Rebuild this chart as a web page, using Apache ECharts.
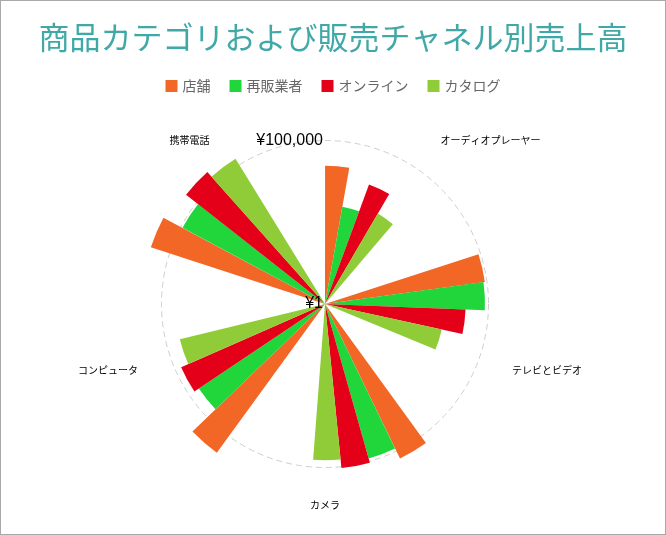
<!DOCTYPE html>
<html>
<head>
<meta charset="utf-8">
<script src="https://cdn.jsdelivr.net/npm/echarts@6/dist/echarts.min.js"></script>
<style>
html,body{margin:0;padding:0;background:#fff;}
#frame{width:666px;height:535px;box-sizing:border-box;border:1px solid #a9a9a9;}
#chart{width:664px;height:533px;}
</style>
</head>
<body>
<div id="frame"><div id="chart"></div></div>
<script>
const titleText = '商品カテゴリおよび販売チャネル別売上高';
const categories = ['オーディオプレーヤー', 'テレビとビデオ', 'カメラ', 'コンピュータ', '携帯電話'];
const seriesNames = ['店舗', '再販業者', 'オンライン', 'カタログ'];
const storeSales = [17000, 86000, 180000, 420000, 400000];
const resellerSales = [1050, 78000, 81000, 44000, 87000];
const onlineSales = [7900, 20000, 110000, 64000, 255000];
const catalogSales = [1600, 4500, 60000, 37000, 165000];
const seriesColors = ['#f26726', '#21d63b', '#e50019', '#8fcc37'];

const seriesValues = [storeSales, resellerSales, onlineSales, catalogSales];
const CX = 324, CY = 303;
const R_GUIDE = 163.5;         // radius of the 100,000 guide circle
const R_MAX = 1000000;         // outer value of bar polar
const R_BARS = R_GUIDE * Math.log10(R_MAX) / 5;

const chart = echarts.init(document.getElementById('chart'));
const jp = "'Noto Sans CJK JP', sans-serif";

chart.setOption({
  animation: false,
  backgroundColor: '#fff',
  title: {
    text: titleText,
    left: 'center',
    top: 16,
    textStyle: { color: '#41a8a8', fontSize: 31, fontWeight: 'normal', fontFamily: jp }
  },
  legend: {
    data: seriesNames,
    top: 73,
    left: 'center',
    icon: 'rect',
    itemWidth: 12,
    itemHeight: 12,
    itemGap: 19,
    textStyle: { color: '#666', fontSize: 14, fontFamily: jp }
  },
  polar: [
    { center: [CX, CY], radius: R_GUIDE },
    { center: [CX, CY], radius: R_BARS }
  ],
  angleAxis: [
    {
      polarIndex: 0,
      type: 'category',
      data: categories,
      startAngle: 90,
      clockwise: true,
      z: 1,
      axisLine: { show: true, lineStyle: { color: '#cfcfcf', type: [6, 4], width: 1 } },
      axisTick: { show: false },
      splitLine: { show: false },
      axisLabel: { margin: 33, fontSize: 10, color: '#000', fontFamily: jp }
    },
    {
      polarIndex: 1,
      type: 'category',
      data: categories,
      startAngle: 90 + 15.8,
      clockwise: true,
      show: false
    }
  ],
  radiusAxis: [
    {
      polarIndex: 0,
      type: 'log',
      logBase: 100000,
      min: 1,
      max: 100000,
      z: 10,
      axisLine: { show: false },
      axisTick: { show: false },
      splitLine: { show: false },
      axisLabel: {
        margin: 2,
        fontSize: 16,
        color: '#000',
        fontFamily: 'Liberation Sans, Arial, sans-serif',
        formatter: function (v) { return '¥' + Math.round(v).toLocaleString('en-US'); }
      }
    },
    {
      polarIndex: 1,
      type: 'log',
      min: 1,
      max: R_MAX,
      startValue: 1,
      show: false
    }
  ],
  series: seriesNames.map(function (name, i) {
    return {
      name: name,
      type: 'bar',
      coordinateSystem: 'polar',
      polarIndex: 1,
      data: seriesValues[i],
      barGap: '0%',
      barCategoryGap: '44%',
      itemStyle: { color: seriesColors[i] }
    };
  })
});
</script>
</body>
</html>
